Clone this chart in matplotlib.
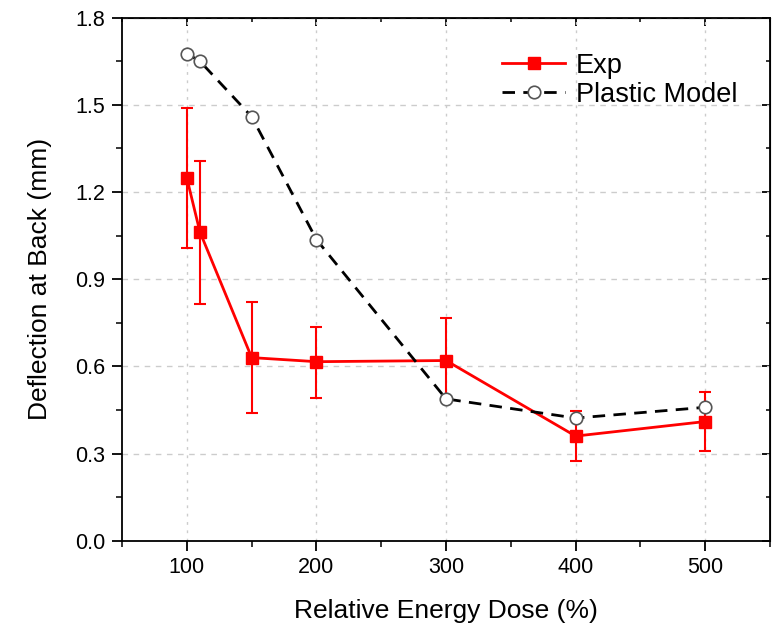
import matplotlib
matplotlib.use("Agg")
from matplotlib import pyplot as plt
from matplotlib.ticker import MultipleLocator

plt.rcParams["font.family"] = ["Liberation Sans", "DejaVu Sans"]

# data
dose = [100, 110, 150, 200, 300, 400, 500]
exp_val = [1.247, 1.063, 0.630, 0.616, 0.620, 0.360, 0.410]
exp_hi = [1.490, 1.308, 0.820, 0.734, 0.767, 0.447, 0.513]
exp_lo = [1.006, 0.813, 0.440, 0.492, 0.490, 0.273, 0.307]
plastic = [1.676, 1.650, 1.459, 1.036, 0.488, 0.422, 0.459]

err_up = [h - v for h, v in zip(exp_hi, exp_val)]
err_dn = [v - l for v, l in zip(exp_val, exp_lo)]

fig = plt.figure(figsize=(7.73, 6.28), dpi=100)
ax = fig.add_axes([0.158, 0.139, 0.838, 0.833])

ax.errorbar(dose, exp_val, yerr=[err_dn, err_up], fmt="none", ecolor="#ff0000",
            elinewidth=1.5, capsize=4.5, capthick=1.5, zorder=3)
ax.plot(dose, exp_val, color="#ff0000", lw=2, marker="s", markersize=8,
        label="Exp", zorder=4)
ax.plot(dose, plastic, color="black", lw=2, dashes=(4.5, 3), marker="o",
        markersize=9, markerfacecolor="white", markeredgecolor="#555555",
        markeredgewidth=1.2, label="Plastic Model", zorder=5)

ax.set_xlim(50, 550)
ax.set_ylim(0, 1.8)
ax.xaxis.set_major_locator(MultipleLocator(100))
ax.xaxis.set_minor_locator(MultipleLocator(50))
ax.yaxis.set_major_locator(MultipleLocator(0.3))
ax.yaxis.set_minor_locator(MultipleLocator(0.15))
ax.yaxis.set_major_formatter(plt.FormatStrFormatter("%.1f"))

ax.tick_params(which="major", direction="out", length=7, width=1.3,
               labelsize=15.5, pad=5)
ax.tick_params(which="minor", direction="out", length=4, width=1.1)
for s in ax.spines.values():
    s.set_linewidth(1.3)

# inward ticks on the top and right edges
top = ax.secondary_xaxis("top")
top.xaxis.set_major_locator(MultipleLocator(100))
top.xaxis.set_minor_locator(MultipleLocator(50))
top.tick_params(which="major", direction="in", length=6, width=1.3, labeltop=False)
top.tick_params(which="minor", direction="in", length=3, width=1.1)
right = ax.secondary_yaxis("right")
right.yaxis.set_major_locator(MultipleLocator(0.3))
right.yaxis.set_minor_locator(MultipleLocator(0.15))
right.tick_params(which="major", direction="in", length=6, width=1.3, labelright=False)
right.tick_params(which="minor", direction="in", length=3, width=1.1)

ax.xaxis.grid(True, linestyle=(0, (2, 4)), color="#cccccc", lw=1)
ax.yaxis.grid(True, linestyle=(0, (4, 4)), color="#cccccc", lw=1)
ax.set_axisbelow(True)

ax.set_xlabel("Relative Energy Dose (%)", fontsize=19, labelpad=15)
ax.set_ylabel("Deflection at Back (mm)", fontsize=19, labelpad=17)

ax.legend(loc="upper left", bbox_to_anchor=(0.587, 0.933), frameon=False,
          fontsize=19.5, handlelength=2.3, handletextpad=0.4,
          labelspacing=0.12, borderpad=0, borderaxespad=0)

fig.savefig("out.png", dpi=100)
